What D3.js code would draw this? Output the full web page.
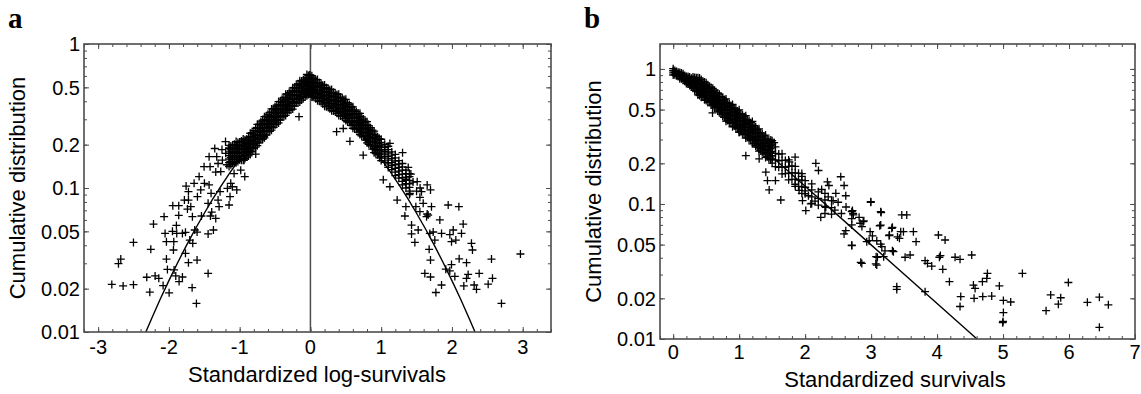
<!DOCTYPE html>
<html><head><meta charset="utf-8">
<script src="https://cdn.jsdelivr.net/npm/d3@7"></script>
<style>
html,body{margin:0;padding:0;background:#fff;}
svg text{font-family:"Liberation Sans",Arial,Helvetica,sans-serif;fill:#000;}
</style></head>
<body>
<svg id="chart" width="1141" height="394"></svg>
<script>
// ---------------- DATA ----------------
const xTicksA = [-3, -2, -1, 0, 1, 2, 3];
const yTicks = [1, 0.5, 0.2, 0.1, 0.05, 0.02, 0.01];
const yTickLabels = ["1", "0.5", "0.2", "0.1", "0.05", "0.02", "0.01"];
const xTicksB = [0, 1, 2, 3, 4, 5, 6, 7];

// Panel a: dense band, columns [x, y1, y2, ...]
const bandA = [
  [-1.15, 0.141, 0.150, 0.159, 0.168, 0.178, 0.188, 0.198],
  [-1.10, 0.149, 0.158, 0.167, 0.177, 0.187, 0.198],
  [-1.05, 0.150, 0.158, 0.168, 0.178, 0.189, 0.199, 0.210],
  [-1.00, 0.157, 0.167, 0.177, 0.187, 0.198, 0.209],
  [-0.95, 0.156, 0.166, 0.176, 0.186, 0.197, 0.208, 0.219],
  [-0.90, 0.164, 0.175, 0.184, 0.196, 0.207, 0.219],
  [-0.85, 0.171, 0.181, 0.192, 0.203, 0.215, 0.227, 0.240],
  [-0.80, 0.188, 0.200, 0.210, 0.224, 0.237, 0.250],
  [-0.75, 0.197, 0.209, 0.222, 0.235, 0.249, 0.263, 0.277],
  [-0.70, 0.216, 0.230, 0.243, 0.258, 0.273, 0.288],
  [-0.65, 0.223, 0.236, 0.250, 0.265, 0.281, 0.297, 0.313],
  [-0.60, 0.245, 0.260, 0.275, 0.291, 0.308, 0.325],
  [-0.55, 0.252, 0.267, 0.284, 0.300, 0.318, 0.336, 0.354],
  [-0.50, 0.275, 0.293, 0.308, 0.328, 0.347, 0.366],
  [-0.45, 0.283, 0.300, 0.318, 0.337, 0.357, 0.377, 0.398],
  [-0.40, 0.311, 0.331, 0.349, 0.371, 0.392, 0.414],
  [-0.35, 0.319, 0.338, 0.359, 0.380, 0.403, 0.426, 0.448],
  [-0.30, 0.346, 0.368, 0.388, 0.412, 0.436, 0.460],
  [-0.25, 0.353, 0.374, 0.397, 0.420, 0.445, 0.470, 0.496],
  [-0.20, 0.389, 0.414, 0.437, 0.464, 0.491, 0.518],
  [-0.15, 0.395, 0.418, 0.444, 0.470, 0.498, 0.526, 0.555],
  [-0.10, 0.424, 0.451, 0.475, 0.505, 0.534, 0.564],
  [-0.05, 0.437, 0.463, 0.491, 0.520, 0.551, 0.582, 0.614],
  [-0.01, 0.458, 0.488, 0.514, 0.546, 0.578, 0.610],
  [0.02, 0.428, 0.454, 0.482, 0.510, 0.541, 0.571, 0.602],
  [0.05, 0.433, 0.460, 0.485, 0.515, 0.545, 0.575],
  [0.10, 0.403, 0.427, 0.454, 0.480, 0.509, 0.538, 0.566],
  [0.15, 0.398, 0.423, 0.446, 0.474, 0.501, 0.529],
  [0.20, 0.370, 0.392, 0.416, 0.440, 0.466, 0.493, 0.519],
  [0.25, 0.368, 0.391, 0.412, 0.438, 0.463, 0.489],
  [0.30, 0.344, 0.365, 0.387, 0.410, 0.435, 0.459, 0.484],
  [0.35, 0.342, 0.363, 0.383, 0.407, 0.431, 0.454],
  [0.40, 0.319, 0.338, 0.359, 0.380, 0.403, 0.426, 0.448],
  [0.45, 0.316, 0.336, 0.354, 0.376, 0.398, 0.420],
  [0.50, 0.294, 0.312, 0.331, 0.350, 0.371, 0.392, 0.413],
  [0.55, 0.285, 0.304, 0.320, 0.340, 0.360, 0.380],
  [0.60, 0.260, 0.276, 0.293, 0.310, 0.329, 0.347, 0.366],
  [0.65, 0.255, 0.271, 0.286, 0.304, 0.322, 0.339],
  [0.70, 0.235, 0.249, 0.265, 0.280, 0.297, 0.314, 0.330],
  [0.75, 0.227, 0.241, 0.254, 0.270, 0.286, 0.301],
  [0.80, 0.206, 0.218, 0.232, 0.245, 0.260, 0.274, 0.289],
  [0.85, 0.197, 0.210, 0.221, 0.235, 0.249, 0.262],
  [0.90, 0.176, 0.187, 0.198, 0.210, 0.223, 0.235, 0.248],
  [0.95, 0.170, 0.181, 0.191, 0.203, 0.215, 0.227],
  [1.00, 0.155, 0.165, 0.175, 0.185, 0.196, 0.207, 0.218],
  [1.05, 0.151, 0.161, 0.170, 0.180, 0.191, 0.201],
  [1.10, 0.139, 0.147, 0.156, 0.165, 0.175, 0.185, 0.195],
  [1.15, 0.134, 0.143, 0.150, 0.160, 0.169, 0.178],
  [1.20, 0.122, 0.129, 0.137, 0.145, 0.154, 0.162, 0.171],
  [1.25, 0.117, 0.124, 0.131, 0.139, 0.147, 0.155],
  [1.30, 0.105, 0.111, 0.118, 0.125, 0.133, 0.140, 0.148],
  [1.35, 0.100, 0.107, 0.113, 0.119, 0.126, 0.133],
  [1.40, 0.090, 0.095, 0.101, 0.107, 0.113, 0.120, 0.126]
];
// Panel a: more band points between the columns above
const bandA2 = [
  [-1.125, 0.145, 0.153, 0.163, 0.173, 0.184, 0.196],
  [-1.075, 0.149, 0.158, 0.168, 0.179, 0.189, 0.201],
  [-1.025, 0.153, 0.162, 0.173, 0.184, 0.194, 0.207],
  [-0.975, 0.156, 0.166, 0.177, 0.188, 0.199, 0.212],
  [-0.925, 0.160, 0.169, 0.180, 0.192, 0.203, 0.216],
  [-0.875, 0.167, 0.176, 0.188, 0.200, 0.212, 0.225],
  [-0.825, 0.179, 0.189, 0.202, 0.214, 0.227, 0.242],
  [-0.775, 0.192, 0.203, 0.217, 0.231, 0.244, 0.260],
  [-0.725, 0.206, 0.218, 0.232, 0.247, 0.261, 0.278],
  [-0.675, 0.218, 0.231, 0.247, 0.262, 0.278, 0.296],
  [-0.625, 0.233, 0.247, 0.263, 0.279, 0.296, 0.315],
  [-0.575, 0.247, 0.262, 0.279, 0.297, 0.314, 0.335],
  [-0.525, 0.263, 0.278, 0.297, 0.315, 0.334, 0.355],
  [-0.475, 0.278, 0.294, 0.314, 0.334, 0.353, 0.376],
  [-0.425, 0.296, 0.313, 0.334, 0.355, 0.376, 0.400],
  [-0.375, 0.315, 0.333, 0.355, 0.377, 0.400, 0.426],
  [-0.325, 0.332, 0.351, 0.374, 0.398, 0.421, 0.449],
  [-0.275, 0.349, 0.369, 0.394, 0.418, 0.443, 0.472],
  [-0.225, 0.370, 0.392, 0.418, 0.444, 0.470, 0.500],
  [-0.175, 0.391, 0.414, 0.442, 0.469, 0.497, 0.529],
  [-0.125, 0.408, 0.432, 0.461, 0.490, 0.518, 0.552],
  [-0.075, 0.429, 0.455, 0.485, 0.515, 0.545, 0.581],
  [-0.030, 0.446, 0.473, 0.504, 0.536, 0.567, 0.604],
  [0.035, 0.429, 0.455, 0.485, 0.515, 0.545, 0.581],
  [0.075, 0.417, 0.441, 0.470, 0.500, 0.529, 0.564],
  [0.125, 0.400, 0.423, 0.451, 0.479, 0.508, 0.541],
  [0.175, 0.383, 0.405, 0.432, 0.459, 0.486, 0.518],
  [0.225, 0.367, 0.389, 0.415, 0.441, 0.467, 0.497],
  [0.275, 0.355, 0.376, 0.401, 0.426, 0.451, 0.481],
  [0.325, 0.342, 0.362, 0.386, 0.410, 0.434, 0.462],
  [0.375, 0.330, 0.349, 0.372, 0.396, 0.419, 0.446],
  [0.425, 0.316, 0.335, 0.357, 0.379, 0.402, 0.428],
  [0.475, 0.303, 0.321, 0.343, 0.364, 0.386, 0.411],
  [0.525, 0.289, 0.306, 0.326, 0.347, 0.367, 0.391],
  [0.575, 0.272, 0.288, 0.307, 0.326, 0.346, 0.368],
  [0.625, 0.257, 0.272, 0.290, 0.308, 0.326, 0.347],
  [0.675, 0.244, 0.258, 0.276, 0.293, 0.310, 0.330],
  [0.725, 0.230, 0.244, 0.260, 0.276, 0.293, 0.312],
  [0.775, 0.215, 0.228, 0.243, 0.258, 0.273, 0.291],
  [0.825, 0.201, 0.212, 0.227, 0.241, 0.255, 0.271],
  [0.875, 0.186, 0.197, 0.210, 0.223, 0.237, 0.252],
  [0.925, 0.173, 0.183, 0.195, 0.207, 0.219, 0.233],
  [0.975, 0.162, 0.172, 0.183, 0.195, 0.206, 0.220]
];

// Panel a: scattered points [x, y]
const sparseA = [
  [-2.807,0.0214],[-2.647,0.0209],[-2.501,0.0213],[-2.713,0.0298],[-2.680,0.0321],[-2.501,0.0419],
  [-2.218,0.0562],[-2.256,0.0375],[-2.068,0.0632],[-2.313,0.0240],[-2.195,0.0245],[-2.143,0.0236],
  [-2.270,0.0189],[-2.082,0.0210],[-1.997,0.0187],[-2.035,0.0321],[-2.054,0.0484],[-2.035,0.0424],
  [-1.931,0.0424],[-1.945,0.0754],[-1.861,0.0754],[-1.861,0.0646],[-1.894,0.0550],[-1.950,0.0500],
  [-1.936,0.0371],[-1.889,0.0484],[-1.809,0.0484],[-1.757,0.1032],[-1.724,0.0943],[-1.781,0.0825],
  [-1.724,0.0825],[-1.691,0.0742],[-1.738,0.0714],[-1.766,0.0492],[-1.705,0.0435],[-1.663,0.0413],
  [-1.766,0.0352],[-1.724,0.0303],[-1.602,0.0316],[-1.672,0.0203],[-1.611,0.0158],[-1.446,0.0255],
  [-2.021,0.0272],[-1.927,0.0270],[-1.903,0.0245],[-1.856,0.0224],[-1.809,0.0241],[-1.602,0.0494],
  [-1.635,0.0511],[-1.446,0.0480],[-1.371,0.0511],[-1.338,0.0615],[-1.413,0.0639],[-1.395,0.0681],
  [-1.540,0.0639],[-1.668,0.0632],[-1.597,0.0871],[-1.550,0.0969],[-1.573,0.120],[-1.644,0.1077],
  [-1.498,0.1077],[-1.432,0.105],[-1.404,0.0918],[-1.305,0.0825],[-1.291,0.0742],[-1.277,0.0943],
  [-1.446,0.0783],[-1.338,0.129],[-1.305,0.148],[-1.503,0.1406],[-1.432,0.165],[-1.352,0.188],
  [-1.324,0.165],[-1.418,0.1406],[-1.267,0.130],[-1.244,0.156],[-1.197,0.174],[-1.126,0.1077],
  [-1.136,0.0871],[-1.150,0.0762],[-1.173,0.0995],[-1.103,0.102],[-1.041,0.097],[-1.079,0.126],
  [-0.928,0.120],[-0.985,0.133],[-0.938,0.156],[-0.844,0.179],[-0.773,0.172],[-0.914,0.194],
  [-0.161,0.313],[-0.655,0.227],[-1.20,0.21],[-1.15,0.19],[-1.25,0.185],[-1.18,0.145],
  [0.370,0.246],[0.558,0.211],[0.464,0.259],[0.746,0.169],[1.123,0.204],[1.302,0.176],
  [1.382,0.139],[1.03,0.114],[1.123,0.102],[1.226,0.0825],[1.335,0.0639],[1.509,0.1106],
  [1.65,0.105],[1.697,0.0969],[1.57,0.0943],[1.547,0.0861],[1.594,0.0783],[1.711,0.0742],
  [1.947,0.0762],[2.098,0.0742],[1.664,0.0649],[1.829,0.060],[1.429,0.0553],[1.523,0.0511],
  [1.429,0.048],[1.476,0.0419],[1.688,0.0484],[1.735,0.0495],[1.853,0.0484],[2.018,0.0511],
  [1.970,0.0474],[2.135,0.0484],[2.159,0.0562],[1.994,0.0424],[2.055,0.0435],[1.758,0.0435],
  [1.678,0.0375],[1.697,0.0316],[2.276,0.0413],[2.290,0.0371],[2.102,0.0322],[2.206,0.0303],
  [1.994,0.0294],[1.913,0.0273],[1.970,0.0266],[1.617,0.0255],[1.697,0.0241],[2.041,0.0243],
  [2.206,0.0236],[2.229,0.0251],[2.385,0.0255],[2.559,0.0321],[2.573,0.0236],[2.512,0.0215],
  [2.314,0.0212],[2.347,0.0198],[2.168,0.0209],[1.853,0.0212],[1.773,0.0188],[2.700,0.0158],
  [2.968,0.0348],[1.349,0.0742],[1.405,0.0918],[1.490,0.0742],[1.547,0.0685],[1.641,0.0632],
  [1.65,0.066],[1.45,0.11],[1.5,0.095],[1.55,0.1],[1.42,0.125],[1.35,0.115]
];

// Panel a: fitted curve (normal tails), [x, y]
const curveA = [
  [-2.326,0.01],[-2.25,0.0122],[-2.125,0.0168],[-2.0,0.02275],[-1.875,0.0304],[-1.75,0.0401],
  [-1.625,0.0521],[-1.5,0.0668],[-1.375,0.0846],[-1.25,0.1056],[-1.125,0.1303],[-1.0,0.1587],
  [-0.875,0.1908],[-0.75,0.2266],[-0.625,0.266],[-0.5,0.3085],[-0.375,0.3538],[-0.25,0.4013],
  [-0.125,0.4503],[0,0.5],
  [0.125,0.4503],[0.25,0.4013],[0.375,0.3538],[0.5,0.3085],[0.625,0.266],[0.75,0.2266],
  [0.875,0.1908],[1.0,0.1587],[1.125,0.1303],[1.25,0.1056],[1.375,0.0846],[1.5,0.0668],
  [1.625,0.0521],[1.75,0.0401],[1.875,0.0304],[2.0,0.02275],[2.125,0.0168],[2.25,0.0122],[2.326,0.01]
];

// Panel b: dense band, columns [x, y1, y2, ...]
const bandB = [
  [0.00, 0.902, 0.936, 0.970, 1.004],
  [0.05, 0.893, 0.926, 0.959],
  [0.10, 0.846, 0.878, 0.910, 0.942],
  [0.15, 0.830, 0.860, 0.890, 0.920],
  [0.20, 0.780, 0.805, 0.830, 0.855, 0.880],
  [0.25, 0.755, 0.783, 0.812, 0.840, 0.870],
  [0.30, 0.720, 0.750, 0.780, 0.810, 0.840, 0.870],
  [0.35, 0.685, 0.715, 0.750, 0.785, 0.820, 0.860],
  [0.40, 0.636, 0.666, 0.703, 0.740, 0.777, 0.814, 0.858],
  [0.45, 0.625, 0.657, 0.692, 0.728, 0.763, 0.802],
  [0.50, 0.585, 0.612, 0.646, 0.680, 0.714, 0.748, 0.789],
  [0.55, 0.572, 0.601, 0.634, 0.666, 0.699, 0.735],
  [0.60, 0.533, 0.558, 0.589, 0.620, 0.651, 0.682, 0.719],
  [0.65, 0.519, 0.546, 0.575, 0.605, 0.634, 0.667],
  [0.70, 0.482, 0.504, 0.532, 0.560, 0.588, 0.616, 0.650],
  [0.75, 0.448, 0.477, 0.509, 0.546, 0.578, 0.615],
  [0.80, 0.410, 0.435, 0.465, 0.500, 0.530, 0.565, 0.600],
  [0.85, 0.403, 0.429, 0.458, 0.491, 0.520, 0.553],
  [0.90, 0.373, 0.396, 0.423, 0.455, 0.482, 0.514, 0.546],
  [0.95, 0.368, 0.392, 0.418, 0.448, 0.474, 0.505],
  [1.00, 0.340, 0.361, 0.386, 0.415, 0.440, 0.469, 0.498],
  [1.05, 0.334, 0.356, 0.379, 0.407, 0.431, 0.458],
  [1.10, 0.308, 0.326, 0.349, 0.375, 0.398, 0.424, 0.450],
  [1.15, 0.302, 0.321, 0.343, 0.368, 0.389, 0.414],
  [1.20, 0.279, 0.296, 0.316, 0.340, 0.360, 0.384, 0.408],
  [1.25, 0.270, 0.288, 0.307, 0.330, 0.349, 0.371],
  [1.30, 0.246, 0.261, 0.279, 0.300, 0.318, 0.339, 0.360],
  [1.35, 0.241, 0.257, 0.274, 0.294, 0.311, 0.331],
  [1.40, 0.221, 0.235, 0.251, 0.270, 0.286, 0.305, 0.324],
  [1.45, 0.217, 0.231, 0.247, 0.265, 0.280, 0.298],
  [1.50, 0.201, 0.213, 0.228, 0.245, 0.260, 0.277, 0.294],
  [1.55, 0.189, 0.212, 0.237, 0.265],
  [1.60, 0.187, 0.209, 0.234],
  [1.65, 0.167, 0.188, 0.210, 0.235],
  [1.70, 0.168, 0.187, 0.210],
  [1.75, 0.151, 0.169, 0.190, 0.212],
  [1.80, 0.152, 0.170, 0.191],
  [1.85, 0.135, 0.152, 0.170, 0.190],
  [1.90, 0.135, 0.150, 0.169],
  [1.95, 0.120, 0.134, 0.150, 0.168],
  [2.00, 0.119, 0.133, 0.149],
  [2.10, 0.101, 0.113, 0.127, 0.141],
  [2.20, 0.098, 0.110, 0.123],
  [2.30, 0.085, 0.096, 0.107, 0.120],
  [2.40, 0.084, 0.094, 0.106]
];
// Panel b: more band points between the columns above
const bandB2 = [
  [0.025, 0.907, 0.941, 0.974],
  [0.075, 0.879, 0.911, 0.944],
  [0.125, 0.845, 0.875, 0.905, 0.932],
  [0.175, 0.810, 0.838, 0.866, 0.895],
  [0.225, 0.775, 0.800, 0.826, 0.852, 0.878],
  [0.275, 0.735, 0.765, 0.795, 0.825, 0.855],
  [0.325, 0.695, 0.728, 0.760, 0.793, 0.826, 0.865],
  [0.375, 0.642, 0.680, 0.725, 0.770, 0.815, 0.860],
  [0.425, 0.616, 0.653, 0.696, 0.740, 0.783, 0.834],
  [0.475, 0.591, 0.626, 0.667, 0.709, 0.751, 0.799],
  [0.525, 0.565, 0.599, 0.638, 0.678, 0.718, 0.765],
  [0.575, 0.540, 0.572, 0.610, 0.648, 0.686, 0.730],
  [0.625, 0.514, 0.545, 0.581, 0.617, 0.653, 0.696],
  [0.675, 0.489, 0.518, 0.552, 0.587, 0.621, 0.661],
  [0.725, 0.463, 0.491, 0.523, 0.556, 0.589, 0.627],
  [0.775, 0.438, 0.464, 0.494, 0.525, 0.556, 0.592],
  [0.825, 0.415, 0.439, 0.468, 0.498, 0.527, 0.561],
  [0.875, 0.396, 0.419, 0.447, 0.475, 0.503, 0.536],
  [0.925, 0.378, 0.401, 0.427, 0.454, 0.481, 0.512],
  [0.975, 0.361, 0.383, 0.408, 0.434, 0.459, 0.489],
  [1.025, 0.344, 0.365, 0.389, 0.413, 0.437, 0.466],
  [1.075, 0.327, 0.347, 0.370, 0.393, 0.416, 0.443],
  [1.125, 0.311, 0.329, 0.351, 0.373, 0.395, 0.421],
  [1.175, 0.296, 0.313, 0.334, 0.355, 0.376, 0.400],
  [1.225, 0.281, 0.297, 0.317, 0.337, 0.356, 0.380],
  [1.275, 0.264, 0.279, 0.298, 0.316, 0.335, 0.357],
  [1.325, 0.248, 0.263, 0.280, 0.298, 0.315, 0.336],
  [1.375, 0.235, 0.249, 0.266, 0.283, 0.299, 0.319],
  [1.425, 0.224, 0.237, 0.252, 0.268, 0.284, 0.302],
  [1.475, 0.213, 0.226, 0.241, 0.256, 0.271, 0.289]
];

// Panel b: scattered points [x, y]
const sparseB = [
  [0.864,0.52],[0.889,0.50],[0.596,0.472],[1.480,0.298],[1.53,0.285],[1.848,0.222],[1.76,0.205],
  [2.162,0.2],[2.202,0.177],[2.540,0.159],[2.591,0.137],[2.338,0.146],[2.36,0.137],[2.465,0.12],
  [2.616,0.115],[2.995,0.103],[2.717,0.0893],[2.727,0.085],[2.818,0.0796],[2.88,0.074],[3.146,0.0877],
  [3.131,0.069],[3.273,0.0582],[3.323,0.0671],[3.40,0.057],[2.843,0.037],[3.071,0.036],[3.096,0.0403],
  [2.707,0.0491],[2.616,0.0634],[2.59,0.060],[2.970,0.0535],[3.02,0.058],[3.323,0.0451],[3.146,0.0505],
  [2.424,0.106],[2.313,0.0945],[2.237,0.0796],[2.086,0.1],[2.010,0.0893],[1.960,0.106],[1.909,0.126],
  [1.631,0.107],[1.455,0.127],[1.429,0.149],[1.55,0.149],[1.404,0.172],[1.303,0.216],[1.101,0.228],
  [2.707,0.0877],[2.73,0.083],[2.707,0.078],[2.707,0.070],[2.707,0.0496],[2.833,0.072],[2.859,0.0363],
  [2.86,0.068],[2.89,0.075],[2.995,0.104],[2.985,0.0624],[2.934,0.0526],[3.086,0.0534],[3.076,0.0407],
  [3.086,0.0353],[3.162,0.0483],[3.146,0.0698],[3.152,0.0863],[3.19,0.0407],[3.21,0.045],[3.278,0.0589],
  [3.313,0.066],[3.338,0.0443],[3.389,0.0244],[3.389,0.0233],[3.429,0.0557],[3.449,0.0624],[3.465,0.083],
  [3.540,0.083],[3.49,0.0624],[3.515,0.0403],[3.591,0.0419],[3.641,0.0624],[3.682,0.0526],[3.818,0.038],
  [3.854,0.0363],[3.919,0.0347],[3.818,0.0224],[4.020,0.0589],[4.121,0.0541],[4.035,0.0403],[4.05,0.0415],
  [4.086,0.0328],[4.187,0.0266],[4.273,0.0403],[4.348,0.0389],[4.525,0.0419],[4.359,0.0206],[4.348,0.0174],
  [4.551,0.0251],[4.576,0.0237],[4.561,0.02],[4.692,0.0206],[4.687,0.0266],[4.763,0.0306],[4.753,0.0281],
  [4.828,0.0208],[4.944,0.0247],[5.005,0.0193],[5.116,0.0188],[5.005,0.0157],[4.995,0.0132],[5.0,0.0135],
  [5.293,0.0306],[5.652,0.0162],[5.722,0.0212],[5.874,0.0202],[5.838,0.0181],[5.990,0.0262],[6.278,0.0187],
  [6.460,0.0204],[6.596,0.0179],[6.460,0.0122],
  [0.30,0.76],[0.62,0.56],[1.0,0.34],[1.15,0.31],[1.25,0.27],[1.85,0.14],[2.0,0.125],[1.95,0.16],
  [2.05,0.115],[2.15,0.105],[2.25,0.128],[2.35,0.113],[2.45,0.09],[2.5,0.103],[2.55,0.085],[2.62,0.095]
];

// Panel b: fitted exponential line [x, y]
const curveB = [[0,1],[1,0.3679],[2,0.1353],[3,0.0498],[4,0.0183],[4.605,0.01]];

// ---------------- DRAW ----------------
const svg = d3.select("#chart");
const frameColor = "#4d4d4d";
const plusPath = "M-4,0H4M0,-4V4";

function flattenBand(band) {
  const out = [];
  band.forEach(col => { for (let i = 1; i < col.length; i++) out.push([col[0], col[i]]); });
  return out;
}

function minorLogTicks(lo, hi) {
  const t = [];
  for (let e = -2; e <= 0; e++) {
    for (let m = 1; m <= 9; m++) {
      const v = m * Math.pow(10, e);
      if (v >= lo - 1e-9 && v <= hi + 1e-9) t.push(v);
    }
  }
  return t;
}

function panel(cfg) {
  const g = svg.append("g");
  const x = d3.scaleLinear().domain(cfg.xDomain).range([cfg.left, cfg.right]);
  const y = d3.scaleLog().domain(cfg.yDomain).range([cfg.bottom, cfg.top]);
  const W = cfg.right - cfg.left, H = cfg.bottom - cfg.top;

  const xMinor = d3.range(Math.ceil(cfg.xDomain[0] / 0.2), Math.floor(cfg.xDomain[1] / 0.2 + 1e-9) + 1).map(k => +(k * 0.2).toFixed(3));
  const yMinor = minorLogTicks(cfg.yDomain[0], cfg.yDomain[1]);

  const axB = d3.axisBottom(x).tickValues(xMinor).tickSize(-3).tickFormat("");
  const axT = d3.axisTop(x).tickValues(xMinor).tickSize(-3).tickFormat("");
  const axL = d3.axisLeft(y).tickValues(yMinor).tickSize(-3).tickFormat("");
  const axR = d3.axisRight(y).tickValues(yMinor).tickSize(-3).tickFormat("");
  const axB2 = d3.axisBottom(x).tickValues(cfg.xTicks).tickSize(-5).tickFormat("");
  const axT2 = d3.axisTop(x).tickValues(cfg.xTicks).tickSize(-5).tickFormat("");
  const axL2 = d3.axisLeft(y).tickValues(yTicks).tickSize(-5).tickFormat("");
  const axR2 = d3.axisRight(y).tickValues(yTicks).tickSize(-5).tickFormat("");

  const axes = [
    [axB, `translate(0,${cfg.bottom})`], [axT, `translate(0,${cfg.top})`],
    [axL, `translate(${cfg.left},0)`], [axR, `translate(${cfg.right},0)`],
    [axB2, `translate(0,${cfg.bottom})`], [axT2, `translate(0,${cfg.top})`],
    [axL2, `translate(${cfg.left},0)`], [axR2, `translate(${cfg.right},0)`]
  ];
  axes.forEach(([ax, tr]) => {
    const a = g.append("g").attr("transform", tr).call(ax);
    a.select(".domain").remove();
    a.selectAll(".tick line").attr("stroke", frameColor).attr("stroke-width", 1);
  });

  g.selectAll(".xl").data(cfg.xTicks).enter().append("text")
    .attr("x", d => x(d)).attr("y", cfg.bottom + cfg.xLabOff)
    .attr("text-anchor", "middle").attr("font-size", 20)
    .text(d => String(d));
  g.selectAll(".yl").data(yTicks).enter().append("text")
    .attr("x", cfg.left - 4).attr("y", d => y(d)).attr("dy", "0.36em")
    .attr("text-anchor", "end").attr("font-size", 20)
    .text((d, i) => yTickLabels[i]);

  if (cfg.vline !== undefined) {
    g.append("line").attr("x1", x(cfg.vline)).attr("x2", x(cfg.vline))
      .attr("y1", cfg.top).attr("y2", cfg.bottom)
      .attr("stroke", frameColor).attr("stroke-width", 1.5);
  }

  const pts = flattenBand(cfg.band).concat(flattenBand(cfg.band2)).concat(cfg.sparse);
  g.append("g").selectAll("path").data(pts).enter().append("path")
    .attr("d", plusPath)
    .attr("transform", d => `translate(${x(d[0]).toFixed(2)},${y(d[1]).toFixed(2)})`)
    .attr("stroke", "#000").attr("stroke-width", 1.3).attr("fill", "none");

  g.append("path").datum(cfg.curve)
    .attr("d", d3.line().x(d => x(d[0])).y(d => y(d[1])))
    .attr("fill", "none").attr("stroke", "#000").attr("stroke-width", 1.4);

  g.append("rect").attr("x", cfg.left).attr("y", cfg.top).attr("width", W).attr("height", H)
    .attr("fill", "none").attr("stroke", frameColor).attr("stroke-width", 1.6);

  g.append("text").attr("x", cfg.xTitleX).attr("y", cfg.xTitleY)
    .attr("text-anchor", "middle").attr("font-size", 22).text(cfg.xTitle);
  g.append("text")
    .attr("transform", `translate(${cfg.yTitleX},${(cfg.top + cfg.bottom) / 2}) rotate(-90)`)
    .attr("text-anchor", "middle").attr("font-size", 22).text("Cumulative distribution");

  g.append("text").attr("x", cfg.letterX).attr("y", 28)
    .style("font-family", "'Liberation Serif','Times New Roman',serif")
    .attr("font-weight", "bold").attr("font-size", 29).text(cfg.letter);
}

panel({
  left: 84, right: 551, top: 44, bottom: 332,
  xDomain: [-3.2, 3.4], yDomain: [0.01, 1],
  xTicks: xTicksA, xLabOff: 22,
  band: bandA, band2: bandA2, sparse: sparseA, curve: curveA, vline: 0,
  xTitle: "Standardized log-survivals", xTitleX: 317, xTitleY: 382,
  yTitleX: 25, letter: "a", letterX: 8
});

panel({
  left: 660, right: 1135, top: 44, bottom: 339,
  xDomain: [-0.2, 7], yDomain: [0.01, 1.53],
  xTicks: xTicksB, xLabOff: 20,
  band: bandB, band2: bandB2, sparse: sparseB, curve: curveB,
  xTitle: "Standardized survivals", xTitleX: 895, xTitleY: 387,
  yTitleX: 601, letter: "b", letterX: 584
});
</script>
</body></html>
